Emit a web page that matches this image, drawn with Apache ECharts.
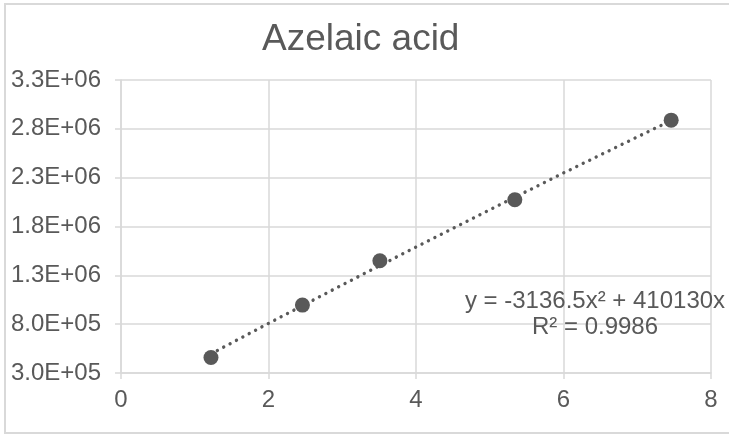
<!DOCTYPE html>
<html>
<head>
<meta charset="utf-8">
<script src="https://cdn.jsdelivr.net/npm/echarts@6/dist/echarts.min.js"></script>
<style>
html,body{margin:0;padding:0;background:#fff;}
#chart{width:729px;height:435px;}
</style>
</head>
<body>
<div id="chart"></div>
<script>
const titleText = 'Azelaic acid';
const xValues = [1.22, 2.46, 3.51, 5.34, 7.46];
const yValues = [458000, 995000, 1450000, 2074000, 2889000];
const trendX = [1.22, 2, 3, 4, 5, 6, 7, 7.46];
const trendY = [496000, 808000, 1202000, 1590000, 1972000, 2348000, 2717000, 2885000];
const xTickLabels = ['0', '2', '4', '6', '8'];
const yTickLabels = ['3.0E+05', '8.0E+05', '1.3E+06', '1.8E+06', '2.3E+06', '2.8E+06', '3.3E+06'];
const equationLines = ['y = -3136.5x\u00B2 + 410130x', 'R\u00B2 = 0.9986'];

const FONT = "'Liberation Sans', Arial, sans-serif";
const TXT = '#595959';
const GRID = '#d9d9d9';

const chart = echarts.init(document.getElementById('chart'), null, {renderer: 'canvas'});
chart.setOption({
  backgroundColor: '#ffffff',
  animation: false,
  title: {
    text: titleText,
    left: 257,
    top: 16,
    textStyle: {fontFamily: FONT, fontSize: 37, fontWeight: 'normal', color: TXT}
  },
  grid: {left: 121, right: 18, top: 80, bottom: 62, containLabel: false},
  xAxis: {
    type: 'value', min: 0, max: 8, interval: 2,
    axisLine: {show: true, lineStyle: {color: GRID, width: 1.5}},
    axisTick: {show: true, length: 6, lineStyle: {color: GRID, width: 1.5}},
    splitLine: {show: true, lineStyle: {color: GRID, width: 1.5}},
    axisLabel: {
      margin: 15, color: TXT, fontFamily: FONT, fontSize: 24,
      formatter: (v, i) => xTickLabels[i]
    }
  },
  yAxis: {
    type: 'value', min: 300000, max: 3300000, interval: 500000,
    axisLine: {show: true, lineStyle: {color: GRID, width: 1.5}},
    axisTick: {show: true, length: 6, lineStyle: {color: GRID, width: 1.5}},
    splitLine: {show: true, lineStyle: {color: GRID, width: 1.5}},
    axisLabel: {
      margin: 20, color: TXT, fontFamily: FONT, fontSize: 24,
      formatter: (v, i) => yTickLabels[i]
    }
  },
  series: [
    {
      type: 'line',
      data: trendX.map((x, i) => [x, trendY[i]]),
      showSymbol: false,
      symbol: 'none',
      smooth: false,
      lineStyle: {color: TXT, width: 3.4, type: [0.01, 7.2], cap: 'round'},
      z: 2
    },
    {
      type: 'scatter',
      data: xValues.map((x, i) => [x, yValues[i]]),
      symbol: 'circle',
      symbolSize: 15,
      itemStyle: {color: TXT, opacity: 1},
      z: 3
    }
  ],
  graphic: [
    {
      type: 'rect',
      shape: {x: 5, y: 4, width: 760, height: 429},
      style: {fill: 'none', stroke: GRID, lineWidth: 2},
      silent: true, z: 0
    },
    {
      type: 'text',
      x: 595, y: 314,
      style: {
        text: equationLines.join('\n'),
        fill: TXT,
        font: '24px ' + FONT,
        align: 'center',
        verticalAlign: 'middle',
        lineHeight: 26
      },
      z: 10
    }
  ]
});
</script>
</body>
</html>
